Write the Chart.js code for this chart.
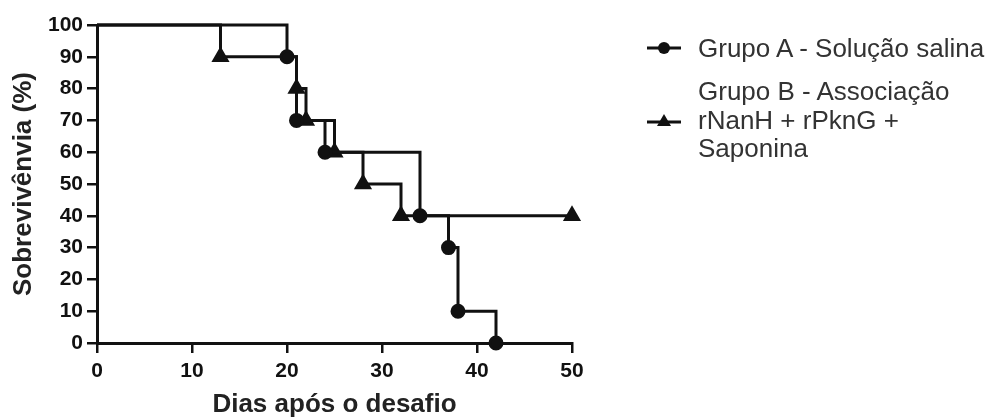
<!DOCTYPE html>
<html lang="pt">
<head>
    <meta charset="UTF-8">
    <title>Sobrevivência</title>
    <style>
        body {
            margin: 0;
            background: #fff;
            font-family: "Liberation Sans", Arial, sans-serif;
        }
        .wrap {
            position: relative;
            width: 990px;
            height: 418px;
        }
        .legend-item {
            position: absolute;
            left: 698px;
            font-size: 26px;
            line-height: 28.5px;
            color: #333;
            white-space: nowrap;
        }
        .legend-sym {
            position: absolute;
            left: 645px;
        }
    </style>
    <script src="https://cdn.jsdelivr.net/npm/chart.js"></script>
</head>
<body>
    <div class="wrap">
        <canvas id="surv" width="990" height="418"></canvas>
        <svg class="legend-sym" style="top:38px" width="40" height="20">
            <line x1="2" y1="10" x2="36" y2="10" stroke="#111" stroke-width="3"/>
            <circle cx="19" cy="10" r="6" fill="#111"/>
        </svg>
        <div class="legend-item" style="top:34px">Grupo A - Solução salina</div>
        <svg class="legend-sym" style="top:111px" width="40" height="20">
            <line x1="2" y1="11" x2="36" y2="11" stroke="#111" stroke-width="3"/>
            <polygon points="19,3 26,15 12,15" fill="#111"/>
        </svg>
        <div class="legend-item" style="top:77px">Grupo B - Associação<br>rNanH + rPknG +<br>Saponina</div>
    </div>
    <script>
        // dias e sobrevivência (%)
        const diasA = [0, 20, 21, 24, 34, 37, 38, 42];
        const survA = [100, 90, 70, 60, 40, 30, 10, 0];
        const diasB = [0, 13, 21, 22, 25, 28, 32, 50];
        const survB = [100, 90, 80, 70, 60, 50, 40, 40];
        const xTicks = [0, 10, 20, 30, 40, 50];
        const yTicks = [0, 10, 20, 30, 40, 50, 60, 70, 80, 90, 100];

        const ink = '#111';
        const tickFont = { family: '"Liberation Sans", Arial, sans-serif', size: 21, weight: 'bold' };
        const titleFont = { family: '"Liberation Sans", Arial, sans-serif', size: 26, weight: 'bold', lineHeight: 1 };

        function toPoints(xs, ys) {
            return xs.map((x, i) => ({ x: x, y: ys[i] }));
        }

        new Chart(document.getElementById('surv'), {
            type: 'line',
            data: {
                datasets: [{
                    label: 'Grupo A - Solução salina',
                    data: toPoints(diasA, survA),
                    stepped: 'before',
                    borderColor: ink,
                    backgroundColor: ink,
                    borderWidth: 3,
                    pointStyle: 'circle',
                    pointRadius: diasA.map((d, i) => i === 0 ? 0 : 6),
                    clip: false
                }, {
                    label: 'Grupo B - Associação rNanH + rPknG + Saponina',
                    data: toPoints(diasB, survB),
                    stepped: 'before',
                    borderColor: ink,
                    backgroundColor: ink,
                    borderWidth: 3,
                    pointStyle: 'triangle',
                    pointRadius: diasB.map((d, i) => i === 0 ? 0 : 7.5),
                    clip: false
                }]
            },
            options: {
                responsive: false,
                animation: false,
                layout: { padding: { top: 25, right: 418, left: 0, bottom: 0 } },
                plugins: { legend: { display: false }, tooltip: { enabled: false } },
                scales: {
                    x: {
                        type: 'linear',
                        min: 0,
                        max: 50,
                        afterBuildTicks: s => { s.ticks = xTicks.map(v => ({ value: v })); },
                        afterFit: s => { s.height = 75; },
                        grid: { drawOnChartArea: false, drawTicks: true, tickLength: 10, color: ink, lineWidth: 2.5 },
                        border: { color: ink, width: 3 },
                        ticks: { color: ink, font: tickFont, padding: 6, maxRotation: 0 },
                        title: { display: true, text: 'Dias após o desafio', color: '#222', font: titleFont, padding: 0 }
                    },
                    y: {
                        min: 0,
                        max: 100,
                        afterBuildTicks: s => { s.ticks = yTicks.map(v => ({ value: v })); },
                        afterFit: s => { s.width = 97; },
                        grid: { drawOnChartArea: false, drawTicks: true, tickLength: 10, color: ink, lineWidth: 2.5 },
                        border: { color: ink, width: 3 },
                        ticks: { color: ink, font: tickFont, padding: 4 },
                        title: { display: true, text: 'Sobrevivênvia (%)', color: '#222', font: titleFont, padding: { top: 11, bottom: 0 } }
                    }
                }
            }
        });
    </script>
</body>
</html>
